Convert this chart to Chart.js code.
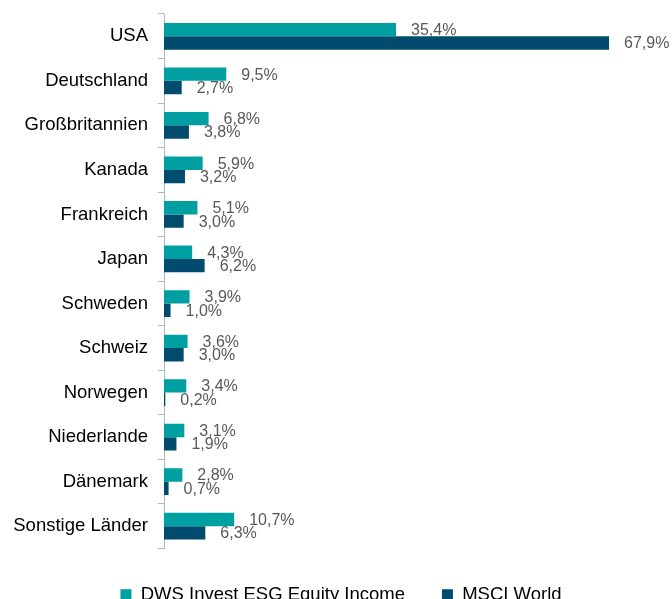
<!DOCTYPE html>
<html>
<head>
<meta charset="utf-8">
<script src="https://cdn.jsdelivr.net/npm/chart.js@4"></script>
<style>
html,body{margin:0;padding:0;overflow:hidden;background:#fff;}
#wrap{position:relative;width:672px;height:614px;}
</style>
</head>
<body>
<div id="wrap"><canvas id="c"></canvas></div>
<script>
const categories = ["USA","Deutschland","Großbritannien","Kanada","Frankreich","Japan","Schweden","Schweiz","Norwegen","Niederlande","Dänemark","Sonstige Länder"];
const fundValues = [35.4, 9.5, 6.8, 5.9, 5.1, 4.3, 3.9, 3.6, 3.4, 3.1, 2.8, 10.7];
const indexValues = [67.9, 2.7, 3.8, 3.2, 3.0, 6.2, 1.0, 3.0, 0.2, 1.9, 0.7, 6.3];
const seriesNames = ["DWS Invest ESG Equity Income", "MSCI World"];

const FONT = "'Liberation Sans', Arial, sans-serif";
const axisColor = "#a7b9c1";

const valueLabels = {
  id: 'valueLabels',
  afterDatasetsDraw(chart) {
    const ctx = chart.ctx;
    ctx.save();
    ctx.font = "16px " + FONT;
    ctx.fillStyle = "#595959";
    ctx.textBaseline = "middle";
    ctx.textAlign = "left";
    chart.data.datasets.forEach((ds, di) => {
      const meta = chart.getDatasetMeta(di);
      meta.data.forEach((bar, i) => {
        const txt = ds.data[i].toFixed(1).replace('.', ',') + '%';
        ctx.fillText(txt, bar.x + 15, bar.y + 1);
      });
    });
    ctx.restore();
  }
};

new Chart(document.getElementById('c'), {
  type: 'bar',
  data: {
    labels: categories,
    datasets: [
      { label: seriesNames[0], data: fundValues, backgroundColor: '#009fa1' },
      { label: seriesNames[1], data: indexValues, backgroundColor: '#004b6e' }
    ]
  },
  options: {
    indexAxis: 'y',
    responsive: true,
    maintainAspectRatio: false,
    animation: false,
    datasets: { bar: { categoryPercentage: 0.6, barPercentage: 1.0 } },
    layout: { padding: { top: 14, right: 0, left: 10, bottom: 0 } },
    scales: {
      x: { type: 'linear', min: 0, max: 77.5, display: false },
      y: {
        type: 'category',
        offset: true,
        grid: { display: true, drawOnChartArea: false, drawTicks: true, tickLength: 6, offset: true, color: axisColor, lineWidth: 1 },
        border: { display: true, color: axisColor, width: 1 },
        ticks: { color: '#000', font: { family: FONT, size: 18.5 }, padding: 10 },
        afterFit(scale) { scale.width = 154; scale.paddingTop = 0; scale.paddingBottom = 0; }
      }
    },
    plugins: {
      legend: {
        display: true,
        position: 'bottom',
        labels: { boxWidth: 11, boxHeight: 11, color: '#000', font: { family: FONT, size: 18.5 }, padding: 37 }
      },
      tooltip: { enabled: false }
    }
  },
  plugins: [valueLabels]
});
</script>
</body>
</html>
